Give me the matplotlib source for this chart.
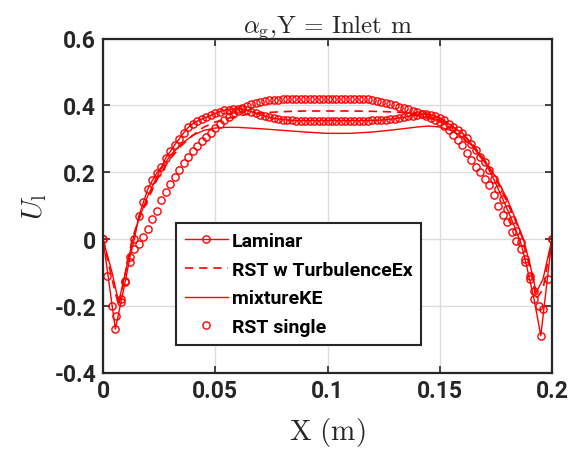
import matplotlib
matplotlib.use("Agg")
import matplotlib.pyplot as plt

# Velocity profiles across the channel at the inlet
x_laminar = [0, 0.0055,
             0.008, 0.010, 0.012, 0.014, 0.016, 0.018, 0.020, 0.022, 0.024, 0.026,
             0.028, 0.030, 0.032, 0.034, 0.036, 0.038, 0.040, 0.042, 0.044, 0.046,
             0.048, 0.050, 0.052, 0.054, 0.056, 0.058, 0.060, 0.062, 0.064, 0.066,
             0.068, 0.070, 0.072, 0.074, 0.076, 0.078, 0.080, 0.082, 0.084,
             0.086, 0.088, 0.090, 0.092, 0.094, 0.096, 0.098, 0.100, 0.102, 0.104,
             0.106, 0.108, 0.110, 0.112, 0.114, 0.116, 0.118,
             0.120, 0.122, 0.124, 0.126, 0.128, 0.130, 0.132, 0.134, 0.136, 0.138,
             0.140, 0.142, 0.144, 0.146, 0.148, 0.150, 0.152, 0.154, 0.156, 0.158,
             0.160, 0.162, 0.164, 0.166, 0.168, 0.170, 0.172, 0.174, 0.176, 0.178,
             0.180, 0.182, 0.184, 0.186, 0.188, 0.190, 0.192,
             0.195, 0.2]
u_laminar = [0, -0.27,
             -0.19, -0.125, -0.055, 0.0, 0.07, 0.11, 0.15, 0.175, 0.198, 0.215,
             0.243, 0.262, 0.282, 0.3, 0.318, 0.334, 0.345, 0.353, 0.359, 0.364,
             0.37, 0.376, 0.381, 0.385, 0.387, 0.389, 0.389, 0.388, 0.385, 0.381,
             0.377, 0.372, 0.368, 0.364, 0.361, 0.359, 0.357, 0.356, 0.355,
             0.354, 0.354, 0.354, 0.354, 0.354, 0.354, 0.354, 0.354, 0.354, 0.354,
             0.354, 0.354, 0.354, 0.354, 0.354, 0.354, 0.354,
             0.355, 0.355, 0.356, 0.357, 0.358, 0.36, 0.362, 0.364, 0.367, 0.369,
             0.371, 0.373, 0.373, 0.371, 0.368, 0.363, 0.355, 0.345, 0.335, 0.325,
             0.318, 0.303, 0.285, 0.265, 0.245, 0.23, 0.205, 0.18, 0.15, 0.12,
             0.09, 0.058, 0.025, -0.01, -0.06, -0.12, -0.18,
             -0.29, 0]

x_rst_tex = [0, 0.004, 0.007, 0.010, 0.013, 0.016, 0.02, 0.025, 0.03, 0.035,
             0.04, 0.045, 0.05, 0.055, 0.06, 0.065, 0.07, 0.08, 0.09, 0.1,
             0.11, 0.12, 0.13, 0.135, 0.14, 0.145, 0.15, 0.155, 0.16, 0.165,
             0.17, 0.175, 0.18, 0.184, 0.187, 0.19, 0.193, 0.196, 0.2]
u_rst_tex = [0, -0.12, -0.2, -0.1, 0.0, 0.06, 0.12, 0.19, 0.24, 0.28,
             0.31, 0.335, 0.35, 0.36, 0.368, 0.373, 0.377, 0.381, 0.383, 0.383,
             0.383, 0.382, 0.38, 0.377, 0.372, 0.365, 0.355, 0.34, 0.315, 0.28,
             0.235, 0.18, 0.11, 0.05, 0.0, -0.08, -0.18, -0.15, 0]

x_mixke = [0, 0.004, 0.007, 0.010, 0.013, 0.016, 0.02, 0.025, 0.03, 0.035,
           0.04, 0.045, 0.05, 0.055, 0.06, 0.07, 0.08, 0.09, 0.1, 0.11,
           0.12, 0.13, 0.14, 0.145, 0.15, 0.155, 0.16, 0.165, 0.17, 0.175,
           0.18, 0.184, 0.187, 0.19, 0.193, 0.196, 0.2]
u_mixke = [0, -0.1, -0.19, -0.1, -0.01, 0.06, 0.13, 0.2, 0.25, 0.285,
           0.31, 0.325, 0.332, 0.334, 0.334, 0.33, 0.325, 0.32, 0.316, 0.316,
           0.32, 0.327, 0.335, 0.338, 0.335, 0.325, 0.305, 0.275, 0.235, 0.185,
           0.12, 0.055, 0.005, -0.07, -0.16, -0.12, 0]

x_rst_single = [0.000, 0.002, 0.004, 0.006, 0.008, 0.010, 0.012, 0.014, 0.016, 0.018,
                0.020, 0.022, 0.024, 0.026, 0.028, 0.030, 0.032, 0.034, 0.036, 0.038,
                0.040, 0.042, 0.044, 0.046, 0.048, 0.050, 0.052, 0.054, 0.056, 0.058,
                0.060, 0.062, 0.064, 0.066, 0.068, 0.070, 0.072, 0.074, 0.076, 0.078,
                0.080, 0.082, 0.084, 0.086, 0.088, 0.090, 0.092, 0.094, 0.096, 0.098,
                0.100, 0.102, 0.104, 0.106, 0.108, 0.110, 0.112, 0.114, 0.116, 0.118,
                0.120, 0.122, 0.124, 0.126, 0.128, 0.130, 0.132, 0.134, 0.136, 0.138,
                0.140, 0.142, 0.144, 0.146, 0.148, 0.150, 0.152, 0.154, 0.156, 0.158,
                0.160, 0.162, 0.164, 0.166, 0.168, 0.170, 0.172, 0.174, 0.176, 0.178,
                0.180, 0.182, 0.184, 0.186, 0.188, 0.190, 0.192, 0.194, 0.196, 0.198,
                0.200]
u_rst_single = [0, -0.11, -0.2, -0.23, -0.18, -0.13, -0.07, -0.03, -0.015, 0.005,
                0.03, 0.06, 0.085, 0.115, 0.14, 0.165, 0.185, 0.205, 0.226, 0.245,
                0.264, 0.279, 0.292, 0.305, 0.318, 0.331, 0.343, 0.355, 0.365, 0.375,
                0.384, 0.392, 0.398, 0.403, 0.407, 0.41, 0.413, 0.415, 0.416, 0.417,
                0.418, 0.419, 0.42, 0.42, 0.42, 0.42, 0.42, 0.42, 0.42, 0.42,
                0.42, 0.42, 0.42, 0.42, 0.42, 0.42, 0.42, 0.42, 0.419, 0.418,
                0.416, 0.413, 0.41, 0.407, 0.404, 0.4, 0.396, 0.392, 0.388, 0.384,
                0.38, 0.374, 0.367, 0.362, 0.357, 0.35, 0.338, 0.326, 0.312, 0.296,
                0.28, 0.258, 0.235, 0.215, 0.2, 0.18, 0.16, 0.13, 0.1, 0.072,
                0.05, 0.02, -0.005, -0.03, -0.07, -0.11, -0.155, -0.2, -0.21, -0.12,
                0]

xticks = [0, 0.05, 0.1, 0.15, 0.2]
xtick_labels = ["0", "0.05", "0.1", "0.15", "0.2"]
yticks = [-0.4, -0.2, 0, 0.2, 0.4, 0.6]
ytick_labels = ["-0.4", "-0.2", "0", "0.2", "0.4", "0.6"]

plt.rcParams["font.family"] = ["Roboto", "DejaVu Sans"]
plt.rcParams["mathtext.fontset"] = "cm"

W, H = 573, 452
fig = plt.figure(figsize=(W / 100, H / 100), dpi=100)
ax = fig.add_axes([103 / W, 1 - 373.5 / H, 449 / W, 334 / H])

red = (1, 0, 0)
dark = "#262626"
ax.plot(x_laminar, u_laminar, "-o", color=red, lw=1.0, ms=5.2, mfc="none",
        mew=1.0, label="Laminar")
ax.plot(x_rst_tex, u_rst_tex, color=red, lw=1.2, dashes=(5, 3.5),
        label="RST w TurbulenceEx")
ax.plot(x_mixke, u_mixke, "-", color=red, lw=1.0, label="mixtureKE")
ax.plot(x_rst_single, u_rst_single, "o", color=red, ms=5.2, mfc="none", mew=1.0,
        label="RST single")

ax.set_xlim(0, 0.2)
ax.set_ylim(-0.4, 0.6)
ax.set_xticks(xticks)
ax.set_xticklabels(xtick_labels)
ax.set_yticks(yticks)
ax.set_yticklabels(ytick_labels)
for lbl in ax.get_xticklabels() + ax.get_yticklabels():
    lbl.set_fontweight("bold")
    lbl.set_fontsize(16.5)
    lbl.set_color(dark)

ax.grid(True, color="#dcdcdc", lw=1.0)
ax.set_axisbelow(True)
ax.tick_params(direction="in", length=5, width=1.2, top=True, right=True,
               colors=dark, pad=5)
for sp in ax.spines.values():
    sp.set_linewidth(1.6)
    sp.set_color(dark)

ax.set_title(r"$\alpha_{\rm g}$,Y = Inlet m", fontsize=18, color=dark, pad=5,
             fontfamily="cmr10")
ax.set_xlabel(r"${\rm X\ (m)}$", fontsize=21, color=dark, labelpad=9)
ax.set_ylabel(r"$U_{\rm l}$", fontsize=21, color=dark, labelpad=4)

leg = ax.legend(loc="lower left", bbox_to_anchor=(0.163, 0.083), fancybox=False,
                framealpha=1, edgecolor=dark, handlelength=2.2,
                labelspacing=0.55, borderpad=0.45, handletextpad=0.2,
                borderaxespad=0,
                prop={"weight": "bold", "size": 14, "family": "Roboto"})
leg.get_frame().set_linewidth(1.5)

fig.savefig("out.png", dpi=100)
